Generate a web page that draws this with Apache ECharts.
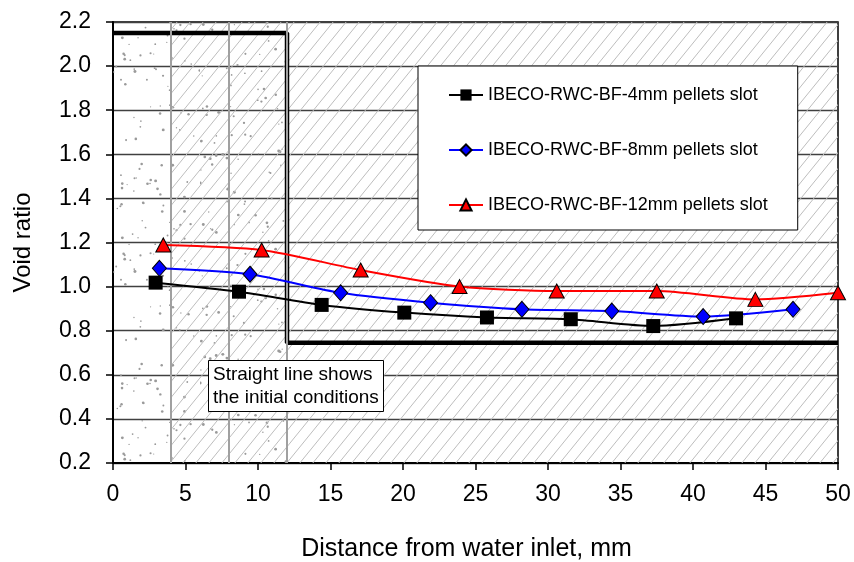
<!DOCTYPE html>
<html><head><meta charset="utf-8">
<script src="https://cdn.jsdelivr.net/npm/echarts@6/dist/echarts.min.js"></script>
<style>html,body{margin:0;padding:0;background:#fff}#c{width:854px;height:562px}</style>
</head><body><div id="c"></div>
<script>
// ---- data ----
const seriesNames = ['IBECO-RWC-BF-4mm pellets slot','IBECO-RWC-BF-8mm pellets slot','IBECO-RWC-BF-12mm pellets slot'];
const x4  = [2.94, 8.69, 14.39, 20.09, 25.79, 31.57, 37.26, 42.97];
const v4  = [1.018, 0.977, 0.917, 0.882, 0.860, 0.852, 0.821, 0.856];
const x8  = [3.2, 9.45, 15.7, 21.9, 28.2, 34.4, 40.7, 46.9];
const v8  = [1.083, 1.056, 0.972, 0.927, 0.897, 0.889, 0.864, 0.897];
const x12 = [3.47, 10.25, 17.08, 23.9, 30.6, 37.5, 44.3, 50.0];
const v12 = [1.189, 1.166, 1.075, 1.0, 0.98, 0.98, 0.942, 0.972];
const initX = [0, 12, 12, 50];
const initY = [2.15, 2.15, 0.745, 0.745];
const zoneEdges = [4, 8, 12];
const dottedZone = [0, 12];
const hatchedZone = [4, 50];
const annotation = 'Straight line shows\nthe initial conditions';

// ---- textures (decorative fills only) ----
function hatchPattern(){
  const w=13,h=16,c=document.createElement('canvas');c.width=w;c.height=h;
  const g=c.getContext('2d');g.strokeStyle='#bdbdbd';g.lineWidth=1;
  for(const o of [-w,0,w]){g.beginPath();g.moveTo(o-w,2*h);g.lineTo(o+2*w,-h);g.stroke();}
  return c;
}
function dotPattern(){
  const s=200,c=document.createElement('canvas');c.width=s;c.height=s;
  const g=c.getContext('2d');g.fillStyle='#9a9a9a';
  let a=2463534242;
  function nx(){a^=a<<13;a>>>=0;a^=a>>>17;a^=a<<5;a>>>=0;return a/4294967296;}
  for(let i=0;i<170;i++){const x=nx()*s,y=nx()*s,r=0.6+nx()*0.9;g.beginPath();g.arc(x,y,r,0,Math.PI*2);g.fill();}
  return c;
}

const chart = echarts.init(document.getElementById('c'), null, {renderer:'canvas'});
const pt = (xs, ys) => xs.map((x,i)=>[x, ys[i]]);
const FF = 'Liberation Sans, Arial';
chart.setOption({
  animation:false,
  backgroundColor:'#fff',
  grid:{left:113,right:16,top:22,bottom:99,show:true,borderColor:'#000',borderWidth:1.5,backgroundColor:'transparent',
    containLabel:false,outerBoundsMode:'none'},
  xAxis:{type:'value',min:0,max:50,interval:5,
    axisLine:{onZero:false,lineStyle:{color:'#000',width:2}},
    axisTick:{length:7,lineStyle:{color:'#000',width:1.5}},
    axisLabel:{color:'#000',fontSize:23,fontFamily:FF,margin:20},
    splitLine:{show:false},
    name:'Distance from water inlet, mm',nameLocation:'middle',nameGap:74,
    nameTextStyle:{color:'#000',fontSize:25,fontFamily:FF,padding:[0,18,0,0]}},
  yAxis:{type:'value',min:0.2,max:2.2,interval:0.2,
    axisLine:{onZero:false,lineStyle:{color:'#000',width:2}},
    axisTick:{length:7,lineStyle:{color:'#000',width:1.5}},
    axisLabel:{color:'#000',fontSize:23,fontFamily:FF,margin:22,formatter:v=>v.toFixed(1)},
    splitLine:{show:true,lineStyle:{color:'#404040',width:1.3}},
    name:'Void ratio',nameLocation:'middle',nameGap:78,
    nameTextStyle:{color:'#000',fontSize:24,fontFamily:FF}},
  legend:{data:seriesNames,orient:'vertical',left:418,top:66,
    backgroundColor:'#fff',borderColor:'#000',borderWidth:1,
    padding:[20,30,16,30],itemGap:37,itemWidth:34,itemHeight:14,
    textStyle:{color:'#000',fontSize:18,fontFamily:FF}},
  title:{text:annotation,left:208,top:360,padding:[3,5,3,5],
    backgroundColor:'#fff',borderColor:'#000',borderWidth:1,
    textStyle:{color:'#000',fontSize:19,fontWeight:'normal',lineHeight:23,fontFamily:FF}},
  series:[
    {type:'line',name:'zones',data:[],silent:true,z:1,
      markArea:{silent:true,data:[
        [{xAxis:dottedZone[0],yAxis:0.2,itemStyle:{color:{image:dotPattern(),repeat:'repeat'}}},{xAxis:dottedZone[1],yAxis:2.2}],
        [{xAxis:hatchedZone[0],yAxis:0.2,itemStyle:{color:{image:hatchPattern(),repeat:'repeat'}}},{xAxis:hatchedZone[1],yAxis:2.2}]
      ]},
      markLine:{silent:true,symbol:'none',label:{show:false},lineStyle:{color:'#a0a0a0',width:2,type:'solid'},
        data:zoneEdges.map(x=>({xAxis:x}))}},
    {type:'line',name:'initial',data:pt(initX,initY),symbol:'none',z:3,
      lineStyle:{color:'#000',width:4.5},silent:true},
    {type:'line',name:seriesNames[0],data:pt(x4,v4),smooth:0.25,symbol:'rect',symbolSize:14,z:5,
      lineStyle:{color:'#000',width:2},itemStyle:{color:'#000',borderColor:'#000',borderWidth:0}},
    {type:'line',name:seriesNames[1],data:pt(x8,v8),smooth:0.25,symbol:'diamond',symbolSize:[14,16],z:5,
      lineStyle:{color:'#0000ff',width:2},itemStyle:{color:'#0000ff',borderColor:'#000',borderWidth:1}},
    {type:'line',name:seriesNames[2],data:pt(x12,v12),smooth:0.25,symbol:'triangle',symbolSize:[15,14],z:5,
      lineStyle:{color:'#ff0000',width:2},itemStyle:{color:'#ff0000',borderColor:'#000',borderWidth:1},clip:false}
  ]
});
</script></body></html>
